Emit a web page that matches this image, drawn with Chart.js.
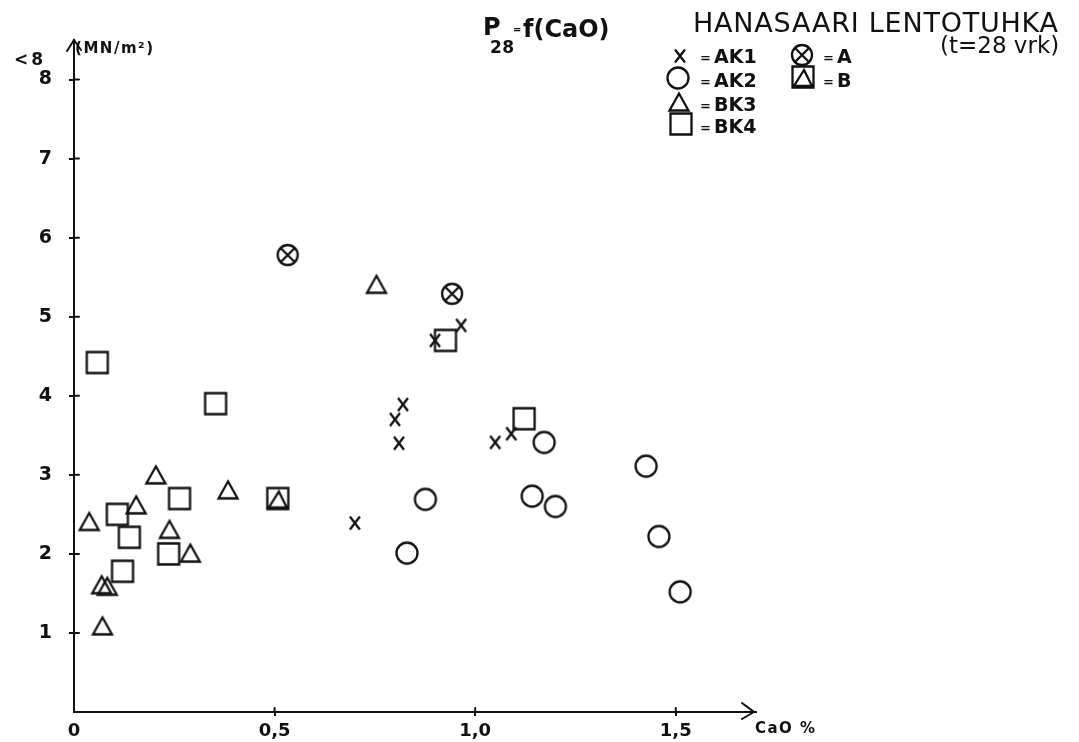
<!DOCTYPE html>
<html>
<head>
<meta charset="utf-8">
<title>HANASAARI LENTOTUHKA</title>
<script src="https://cdn.jsdelivr.net/npm/chart.js@4/dist/chart.umd.min.js"></script>
<style>
    html, body { margin: 0; padding: 0; background: #fff; }
    canvas { display: block; }
</style>
</head>
<body>
<canvas id="chart" width="1079" height="742"></canvas>
<script>
// --- data (x = CaO %, y = P28 MN/m2) --- //
const AK1_X = [0.70, 0.81, 0.80, 0.82, 0.90, 0.965, 1.05, 1.09];
const AK1_Y = [2.39, 3.40, 3.70, 3.89, 4.70, 4.89, 3.41, 3.52];

const AK2_X = [0.83, 0.876, 1.142, 1.172, 1.20, 1.426, 1.458, 1.511];
const AK2_Y = [2.01, 2.69, 2.73, 3.41, 2.60, 3.11, 2.22, 1.52];

const BK3_X = [0.038, 0.069, 0.083, 0.071, 0.155, 0.204, 0.238, 0.29, 0.384, 0.754];
const BK3_Y = [2.41, 1.61, 1.59, 1.09, 2.62, 3.00, 2.31, 2.01, 2.81, 5.41];

const BK4_X = [0.058, 0.108, 0.138, 0.121, 0.236, 0.263, 0.353, 0.926, 1.122];
const BK4_Y = [4.42, 2.50, 2.21, 1.78, 2.00, 2.70, 3.90, 4.70, 3.71];

const A_X = [0.5325, 0.9425];
const A_Y = [5.78, 5.29];

const B_X = [0.508];
const B_Y = [2.70];

const X_TICKS = [0, 0.5, 1.0, 1.5];
const Y_TICKS = [0, 1, 2, 3, 4, 5, 6, 7, 8];

const INK = '#111';
const FONT = '"DejaVu Sans", Arial, sans-serif';

document.addEventListener('DOMContentLoaded', () => {

    // --- marker glyphs --- //
    function makeMarker(kind) {
        const c = document.createElement('canvas');
        c.width = 30; c.height = 30;
        const g = c.getContext('2d');
        g.translate(15, 15);
        g.strokeStyle = INK;
        g.lineWidth = 2.3;
        g.beginPath();
        if (kind === 'x') {
            g.moveTo(-5, -6.5); g.lineTo(5, 6.5);
            g.moveTo(5, -6.5); g.lineTo(-5, 6.5);
        } else if (kind === 'circle') {
            g.arc(0, 0, 10.5, 0, Math.PI * 2);
        } else if (kind === 'triangle') {
            g.moveTo(0, -8.5); g.lineTo(9.5, 8.5); g.lineTo(-9.5, 8.5); g.closePath();
        } else if (kind === 'square') {
            g.rect(-10.5, -10.5, 21, 21);
        } else if (kind === 'A') {
            g.arc(0, 0, 10, 0, Math.PI * 2);
            g.moveTo(-7, -7); g.lineTo(7, 7);
            g.moveTo(7, -7); g.lineTo(-7, 7);
        } else if (kind === 'B') {
            g.rect(-10.5, -10.5, 21, 21);
            g.moveTo(1, -7); g.lineTo(9, 9); g.lineTo(-9, 9); g.closePath();
        }
        g.stroke();
        return c;
    }

    const markers = {
        AK1: makeMarker('x'),
        AK2: makeMarker('circle'),
        BK3: makeMarker('triangle'),
        BK4: makeMarker('square'),
        A: makeMarker('A'),
        B: makeMarker('B')
    };

    function toPoints(xs, ys) {
        return xs.map((x, i) => ({ x: x, y: ys[i] }));
    }

    function series(label, xs, ys) {
        return {
            label: label,
            data: toPoints(xs, ys),
            pointStyle: markers[label],
            pointRadius: 10,
            showLine: false,
            clip: false
        };
    }

    // text with letter spacing stretched to a given width
    function fitText(ctx, str, x, y, font, width) {
        ctx.font = font;
        ctx.letterSpacing = '0px';
        const n = [...str].length;
        if (width && n > 1) {
            const w = ctx.measureText(str).width;
            ctx.letterSpacing = Math.max(0, (width - w) / (n - 1)) + 'px';
        }
        ctx.fillText(str, x, y);
        ctx.letterSpacing = '0px';
    }

    // --- arrows, inner ticks, title and legend --- //
    const decorPlugin = {
        id: 'decor',
        afterDraw(chart) {
            const ctx = chart.ctx;
            const { left, top, right, bottom } = chart.chartArea;
            const xs = chart.scales.x;
            const ys = chart.scales.y;
            ctx.save();
            ctx.strokeStyle = INK;
            ctx.fillStyle = INK;
            ctx.lineWidth = 2;
            ctx.lineCap = 'round';

            ctx.beginPath();
            // axis arrow heads
            ctx.moveTo(left - 7, top + 11); ctx.lineTo(left, top); ctx.lineTo(left + 7, top + 10);
            ctx.moveTo(right - 14, bottom - 9); ctx.lineTo(right - 2, bottom); ctx.lineTo(right - 14, bottom + 7);
            // tick marks inside the plot
            ys.ticks.forEach(t => {
                if (t.value === 0) return;
                const py = ys.getPixelForValue(t.value);
                ctx.moveTo(left, py); ctx.lineTo(left + 5, py);
            });
            xs.ticks.forEach(t => {
                if (t.value === 0) return;
                const px = xs.getPixelForValue(t.value);
                ctx.moveTo(px, bottom); ctx.lineTo(px, bottom - 4);
            });
            ctx.stroke();

            ctx.textAlign = 'left';
            ctx.textBaseline = 'alphabetic';

            // axis titles
            fitText(ctx, '(MN/m²)', 75, 53, 'bold 15px ' + FONT, 78);
            fitText(ctx, 'CaO %', 755, 733, 'bold 15px ' + FONT, 60);
            fitText(ctx, '<8', 14, 65, 'bold 17px ' + FONT, 29);

            // P28 = f(CaO)
            fitText(ctx, 'P', 483, 35, 'bold 24px ' + FONT);
            fitText(ctx, '28', 490, 53, 'bold 17px ' + FONT, 24);
            fitText(ctx, '=', 513, 33, 'bold 10px ' + FONT);
            fitText(ctx, 'f(CaO)', 523, 37, 'bold 24px ' + FONT, 85);

            // main title
            fitText(ctx, 'HANASAARI LENTOTUHKA', 693, 32, '27px ' + FONT, 365);
            fitText(ctx, '(t=28 vrk)', 940, 53, '23px ' + FONT, 118);

            // legend
            const legend = [
                { key: 'AK1', cx: 680, cy: 56, tx: 700, by: 63 },
                { key: 'AK2', cx: 678, cy: 78, tx: 700, by: 87 },
                { key: 'BK3', cx: 679, cy: 102, tx: 700, by: 111 },
                { key: 'BK4', cx: 681, cy: 124, tx: 700, by: 133 },
                { key: 'A', cx: 802, cy: 55, tx: 823, by: 63 },
                { key: 'B', cx: 803, cy: 77, tx: 823, by: 87 }
            ];
            legend.forEach(item => {
                const m = markers[item.key];
                ctx.drawImage(m, item.cx - m.width / 2, item.cy - m.height / 2);
                fitText(ctx, '=', item.tx, item.by - 1, 'bold 13px ' + FONT);
                fitText(ctx, item.key, item.tx + 14, item.by, 'bold 19px ' + FONT);
            });

            ctx.restore();
        }
    };

    const gridColor = c => (c.tick && c.tick.value === 0) ? 'rgba(0,0,0,0)' : INK;

    new Chart(document.getElementById('chart').getContext('2d'), {
        type: 'scatter',
        data: {
            datasets: [
                series('AK1', AK1_X, AK1_Y),
                series('AK2', AK2_X, AK2_Y),
                series('BK3', BK3_X, BK3_Y),
                series('BK4', BK4_X, BK4_Y),
                series('A', A_X, A_Y),
                series('B', B_X, B_Y)
            ]
        },
        options: {
            responsive: false,
            animation: false,
            layout: { padding: { top: 40, right: 323, bottom: 0, left: 0 } },
            plugins: {
                legend: { display: false },
                title: { display: false },
                tooltip: { enabled: false }
            },
            scales: {
                x: {
                    type: 'linear',
                    min: 0,
                    max: 1.7,
                    afterBuildTicks: s => { s.ticks = X_TICKS.map(v => ({ value: v })); },
                    afterFit: s => { s.height = 30; },
                    ticks: {
                        font: { family: FONT, size: 18, weight: 'bold' },
                        color: INK,
                        padding: 5,
                        maxRotation: 0,
                        callback: v => v === 0 ? '0' : v.toFixed(1).replace('.', ',')
                    },
                    grid: { drawOnChartArea: false, drawTicks: true, tickLength: 4, lineWidth: 2, color: gridColor },
                    border: { display: true, color: INK, width: 2 }
                },
                y: {
                    type: 'linear',
                    min: 0,
                    max: 8.5,
                    afterBuildTicks: s => { s.ticks = Y_TICKS.map(v => ({ value: v })); },
                    afterFit: s => { s.width = 74; },
                    ticks: {
                        font: { family: FONT, size: 19, weight: 'bold' },
                        color: INK,
                        padding: 17,
                        callback: v => v === 0 ? '' : String(v)
                    },
                    grid: { drawOnChartArea: false, drawTicks: true, tickLength: 5, lineWidth: 2, color: gridColor },
                    border: { display: true, color: INK, width: 2 }
                }
            }
        },
        plugins: [decorPlugin]
    });
});
</script>
</body>
</html>
